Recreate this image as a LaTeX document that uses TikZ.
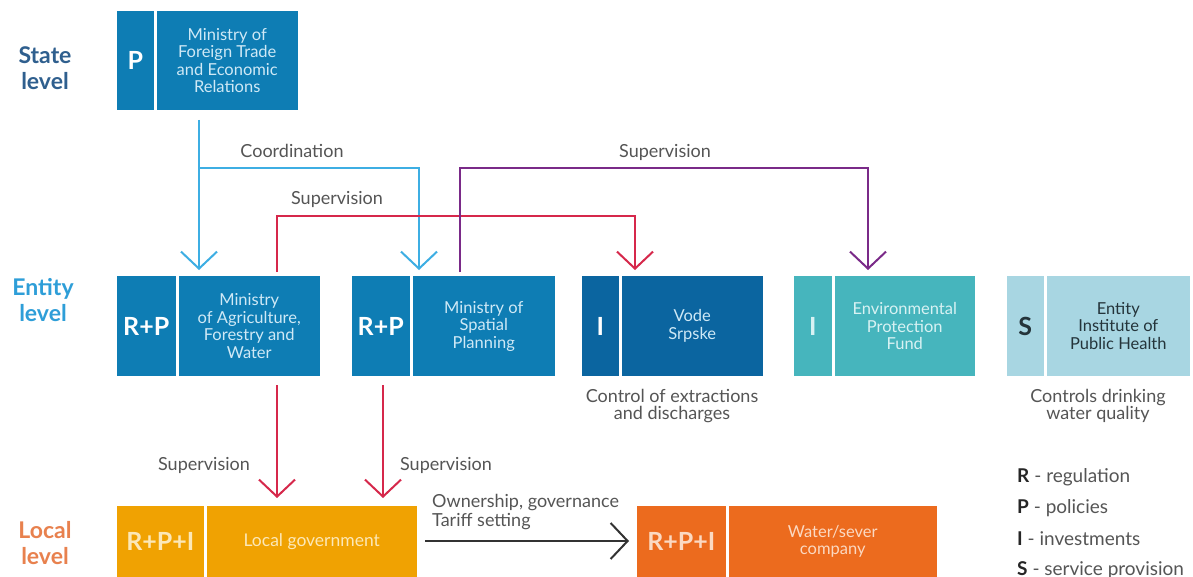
\documentclass[tikz,border=0pt]{standalone}
\usepackage{fontspec}
\setmainfont{Lato}
\usetikzlibrary{arrows.meta}
\definecolor{cblue}{HTML}{0E7DB4}
\definecolor{cdark}{HTML}{0B65A0}
\definecolor{cteal}{HTML}{46B5BD}
\definecolor{clight}{HTML}{A8D6E2}
\definecolor{camber}{HTML}{F0A202}
\definecolor{corange}{HTML}{EC6B1E}
\definecolor{arrblue}{HTML}{3DAEE3}
\definecolor{arrred}{HTML}{D6284B}
\definecolor{arrpurple}{HTML}{7A2A88}
\definecolor{txtgray}{HTML}{555555}
\definecolor{boxtxt}{HTML}{CFE9F6}
\definecolor{tealtxt}{HTML}{D8F2F3}
\definecolor{ambertxt}{HTML}{FCE8B8}
\definecolor{orangetxt}{HTML}{FBD9C2}
\definecolor{insttxt}{HTML}{24343A}
\definecolor{statecol}{HTML}{2F5F8E}
\definecolor{entitycol}{HTML}{2E9ED8}
\definecolor{localcol}{HTML}{E8814E}
\tikzset{
  part/.style={anchor=north west, inner sep=0pt, outer sep=0pt, align=center},
  letter/.style={part, text=white, font=\fontsize{25}{27}\selectfont\bfseries},
  btxt/.style={part, font=\fontsize{16.5}{17.5}\selectfont},
  lbl/.style={text=txtgray, font=\fontsize{18}{19}\selectfont, inner sep=0pt, align=center},
  lvl/.style={font=\fontsize{23}{26}\selectfont\bfseries, inner sep=0pt, align=center},
  leg/.style={anchor=west, inner sep=0pt, text=txtgray, font=\fontsize{19}{20}\selectfont},
  tipv/.style={-{Straight Barb[length=17pt,width=36pt,line width=2pt]}},
  conn/.style={line width=2pt},
}
\begin{document}
\begin{tikzpicture}[x=1pt,y=-1pt]
\useasboundingbox[fill=white] (0,0) rectangle (1193,577);

% level labels
\node[lvl, text=statecol] (lvS) at (45,68) {State\\level};
\node[lvl, text=entitycol] (lvE) at (43,300) {Entity\\level};
\node[lvl, text=localcol] (lvL) at (45,543) {Local\\level};

% state box
\node[letter, fill=cblue, minimum width=36.5pt, minimum height=99pt] (stL) at (117,11) {P};
\node[btxt, fill=cblue, text=boxtxt, minimum width=141.5pt, minimum height=99pt] (st) at (156.5,11) {Ministry of\\Foreign Trade\\and Economic\\Relations};

% entity boxes
\node[letter, fill=cblue, minimum width=58.5pt, minimum height=100pt] (agL) at (117,276) {R+P};
\node[btxt, fill=cblue, text=boxtxt, minimum width=141.5pt, minimum height=100pt] (ag) at (178.5,276) {Ministry\\of Agriculture,\\Forestry and\\Water};

\node[letter, fill=cblue, minimum width=57.5pt, minimum height=100pt] (spL) at (352,276) {R+P};
\node[btxt, fill=cblue, text=boxtxt, minimum width=142.5pt, minimum height=100pt] (sp) at (412.5,276) {Ministry of\\Spatial\\Planning};

\node[letter, fill=cdark, minimum width=36.5pt, minimum height=100pt] (voL) at (582,276) {I};
\node[btxt, fill=cdark, text=boxtxt, minimum width=141.5pt, minimum height=100pt] (vo) at (621.5,276) {Vode\\Srpske};

\node[letter, fill=cteal, text=tealtxt, minimum width=37.5pt, minimum height=100pt] (enL) at (794,276) {I};
\node[btxt, fill=cteal, text=tealtxt, minimum width=140.5pt, minimum height=100pt] (en) at (834.5,276) {Environmental\\Protection\\Fund};

\node[letter, fill=clight, text=insttxt, minimum width=36.5pt, minimum height=100pt] (inL) at (1007,276) {S};
\node[btxt, fill=clight, text=insttxt, minimum width=143.5pt, minimum height=100pt] (in) at (1046.5,276) {Entity\\Institute of\\Public Health};

% local boxes
\node[letter, fill=camber, text=ambertxt, minimum width=86.5pt, minimum height=71pt] (lgL) at (117,506) {R+P+I};
\node[btxt, fill=camber, text=ambertxt, minimum width=210.5pt, minimum height=71pt, font=\fontsize{17.5}{18}\selectfont] (lg) at (206.5,506) {Local government};

\node[letter, fill=corange, text=orangetxt, minimum width=88.5pt, minimum height=71pt] (wcL) at (637,506) {R+P+I};
\node[btxt, fill=corange, text=orangetxt, minimum width=208.5pt, minimum height=71pt] (wc) at (728.5,506) {Water/sever\\company};

% connector guide coordinates
\coordinate (xb1) at (199,0);
\coordinate (xb2) at (419,0);
\coordinate (yb) at (0,168);
\coordinate (xr1) at (277,0);
\coordinate (xr2) at (635,0);
\coordinate (yr) at (0,216);
\coordinate (xp1) at (460,0);
\coordinate (xp2) at (868,0);
\coordinate (xr3) at (383,0);
\coordinate (yk) at (0,541);

% blue coordination
\draw[conn, arrblue, line width=1.6pt, tipv, shorten <=10pt, shorten >=6pt] (st.south -| xb1) -- (ag.north -| xb1);
\draw[conn, arrblue, line width=1.6pt, tipv, shorten >=6pt] (xb1 |- yb) -- (xb2 |- yb) -- (sp.north -| xb2);

% red supervision top
\draw[conn, arrred, tipv, shorten <=4pt, shorten >=6pt] (ag.north -| xr1) -- (xr1 |- yr) -- (xr2 |- yr) -- (vo.north -| xr2);

% purple supervision
\draw[conn, arrpurple, tipv, shorten <=4pt, shorten >=6pt] (sp.north -| xp1) -- (xp1 |- yb) -- (xp2 |- yb) -- (en.north -| xp2);

% red supervision down
\draw[conn, arrred, tipv, shorten <=9pt, shorten >=8pt] (ag.south -| xr1) -- (lg.north -| xr1);
\draw[conn, arrred, tipv, shorten <=9pt, shorten >=8pt] (spL.south -| xr3) -- (lg.north -| xr3);

% black ownership
\draw[conn, black!80, tipv, shorten <=8pt, shorten >=8pt] (lg.east |- yk) -- (wcL.west |- yk);

% labels
\node[lbl] (lbCo) at (292,151) {Coordination};
\node[lbl] (lbSp) at (665,152) {Supervision};
\node[lbl] (lbSr) at (337,199) {Supervision};
\node[lbl] (lbS1) at (204,465) {Supervision};
\node[lbl] (lbS2) at (446,465) {Supervision};
\node[lbl, align=left, anchor=west, font=\fontsize{18}{18.5}\selectfont] (lbOw) at (432,512) {Ownership, governance\\Tariff setting};
\node[lbl, font=\fontsize{18}{17.5}\selectfont] (lbCe) at (672,406) {Control of extractions\\and discharges};
\node[lbl, font=\fontsize{18}{17.5}\selectfont] (lbCd) at (1098,406) {Controls drinking\\water quality};

% legend
\node[leg] (lgR) at (1017,477) {\textcolor{black!85}{\textbf{R}} - regulation};
\node[leg] (lgP) at (1017,508) {\textcolor{black!85}{\textbf{P}} - policies};
\node[leg] (lgI) at (1017,539) {\textcolor{black!85}{\textbf{I}} - investments};
\node[leg] (lgS) at (1017,570) {\textcolor{black!85}{\textbf{S}} - service provision};
\end{tikzpicture}
\end{document}
